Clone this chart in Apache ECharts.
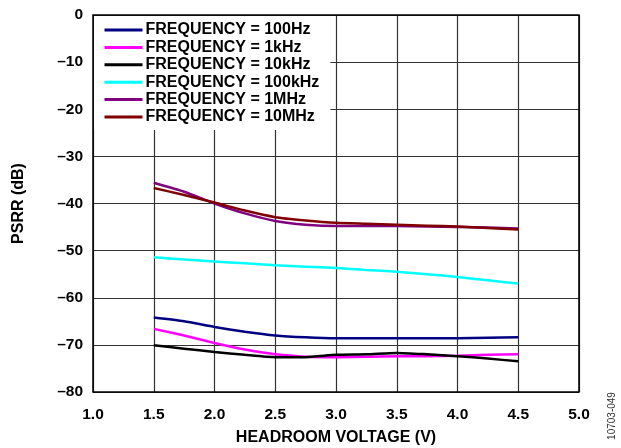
<!DOCTYPE html>
<html>
<head>
<meta charset="utf-8">
<script src="https://cdn.jsdelivr.net/npm/echarts@6/dist/echarts.min.js"></script>
<style>
html,body{margin:0;padding:0;background:#fff;}
#c{width:621px;height:448px;}
</style>
</head>
<body>
<div id="c"></div>
<script>
var voltages = [1.5, 1.75, 2.0, 2.25, 2.5, 2.75, 3.0, 3.25, 3.5, 3.75, 4.0, 4.25, 4.5];
var f100Hz  = [-64.2, -65.0, -66.2, -67.2, -68.0, -68.4, -68.6, -68.6, -68.6, -68.6, -68.6, -68.5, -68.4];
var f1kHz   = [-66.6, -68.0, -69.6, -71.0, -72.0, -72.5, -72.6, -72.5, -72.4, -72.4, -72.3, -72.1, -72.0];
var f10kHz  = [-70.1, -70.8, -71.5, -72.1, -72.6, -72.6, -72.1, -72.0, -71.7, -72.0, -72.4, -72.9, -73.5];
var f100kHz = [-51.4, -51.9, -52.3, -52.7, -53.1, -53.4, -53.7, -54.1, -54.5, -55.0, -55.6, -56.3, -57.0];
var f1MHz   = [-35.6, -37.5, -40.0, -42.1, -43.7, -44.5, -44.8, -44.8, -44.8, -44.9, -45.0, -45.1, -45.3];
var f10MHz  = [-36.7, -38.2, -39.8, -41.5, -42.9, -43.6, -44.1, -44.3, -44.5, -44.7, -44.9, -45.2, -45.5];
var seriesNames = ['FREQUENCY = 100Hz', 'FREQUENCY = 1kHz', 'FREQUENCY = 10kHz', 'FREQUENCY = 100kHz', 'FREQUENCY = 1MHz', 'FREQUENCY = 10MHz'];
var seriesValues = [f100Hz, f1kHz, f10kHz, f100kHz, f1MHz, f10MHz];
var seriesColors = ['#000080', '#FF00FF', '#000000', '#00FFFF', '#800080', '#800000'];
var xTicks = {min: 1.0, max: 5.0, step: 0.5};
var yTicks = {min: -80, max: 0, step: 10};
var xTitle = 'HEADROOM VOLTAGE (V)';
var yTitle = 'PSRR (dB)';
var figId = '10703-049';

var FONT = '"Liberation Sans", Arial, sans-serif';
function pairs(vals){ return voltages.map(function(v,i){ return [v, vals[i]]; }); }

var chart = echarts.init(document.getElementById('c'), null, {renderer:'canvas'});
var series = seriesNames.map(function(n, i){
  return {
    name: n, type: 'line', data: pairs(seriesValues[i]),
    showSymbol: false, symbol: 'none', smooth: 0.2,
    lineStyle: {color: seriesColors[i], width: 2.5},
    itemStyle: {color: seriesColors[i]},
    z: 3 + i
  };
});
chart.setOption({
  animation: false,
  backgroundColor: '#fff',
  grid: {left: 93, right: 42, top: 15, bottom: 56, show: true, borderColor: '#000', borderWidth: 1.5, z: 10,
         containLabel: false, outerBoundsMode: 'none'},
  legend: {
    left: 94, top: 16, orient: 'vertical',
    backgroundColor: '#fff',
    padding: [6, 11, 5, 9],
    itemWidth: 38, itemHeight: 14, itemGap: 1.4,
    itemStyle: {opacity: 0},
    lineStyle: {width: 3},
    textStyle: {fontFamily: FONT, fontWeight: 'bold', fontSize: 16, color: '#000', padding: [0,0,0,-2]},
    data: seriesNames
  },
  xAxis: {
    type: 'value', min: xTicks.min, max: xTicks.max, interval: xTicks.step,
    name: xTitle, nameLocation: 'middle', nameGap: 38,
    nameTextStyle: {fontFamily: FONT, fontWeight: 'bold', fontSize: 16, color: '#000'},
    axisLine: {show: false}, axisTick: {show: false},
    axisLabel: {fontFamily: FONT, fontWeight: 'bold', fontSize: 15.5, color: '#000', margin: 15,
      formatter: function(v){ return v.toFixed(1); }},
    splitLine: {show: true, lineStyle: {color: '#333', width: 1.2}}
  },
  yAxis: {
    type: 'value', min: yTicks.min, max: yTicks.max, interval: yTicks.step,
    name: yTitle, nameLocation: 'middle', nameGap: 66, nameRotate: 90,
    nameTextStyle: {fontFamily: FONT, fontWeight: 'bold', fontSize: 16, color: '#000'},
    axisLine: {show: false}, axisTick: {show: false},
    axisLabel: {fontFamily: FONT, fontWeight: 'bold', fontSize: 15.5, color: '#000', margin: 10,
      formatter: function(v){ return v === 0 ? '0' : (v < 0 ? '\u2013' + Math.abs(v) : String(v)); }},
    splitLine: {show: true, lineStyle: {color: '#333', width: 1.2}}
  },
  graphic: [{
    type: 'text', x: 612, y: 416, rotation: Math.PI/2,
    style: {text: figId, fontFamily: FONT, fontSize: 10, fill: '#333', align: 'center', verticalAlign: 'middle'}
  }],
  series: series
});
</script>
</body>
</html>
